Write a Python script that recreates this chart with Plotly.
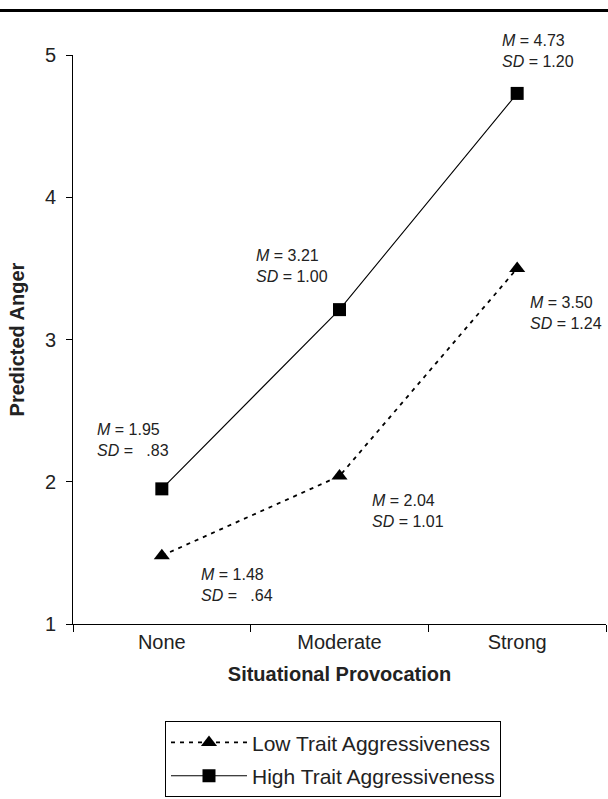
import plotly.graph_objects as go

categories = ["None", "Moderate", "Strong"]
low_means = [1.48, 2.04, 3.50]
low_sds = [0.64, 1.01, 1.24]
high_means = [1.95, 3.21, 4.73]
high_sds = [0.83, 1.00, 1.20]
series_names = ["Low Trait Aggressiveness", "High Trait Aggressiveness"]
y_ticks = [1, 2, 3, 4, 5]

FONT = "Liberation Sans, Arial, Helvetica, sans-serif"


def fmt_sd(v):
    if v < 1:
        return "\u2007" + ("%.2f" % v)[1:]
    return "%.2f" % v


fig = go.Figure()
fig.add_trace(go.Scatter(
    x=categories, y=low_means, name=series_names[0], mode="lines+markers",
    line=dict(color="black", width=1.8, dash="4px,5px"),
    marker=dict(symbol="triangle-up", size=14, color="black"),
    legendgroup="low",
))
fig.add_trace(go.Scatter(
    x=categories, y=high_means, name=series_names[1], mode="lines+markers",
    line=dict(color="black", width=1.1),
    marker=dict(symbol="square", size=13, color="black"),
    legendgroup="high",
))

# annotation offsets (pixels) relative to each point
low_off = [(37, -29), (30, -35), (11, -45)]
high_off = [(-67, 49), (-86, 44), (-17, 42)]

for means, sds, offs in [(low_means, low_sds, low_off), (high_means, high_sds, high_off)]:
    for c, m, s, (dx, dy) in zip(categories, means, sds, offs):
        fig.add_annotation(
            x=c, y=m, xref="x", yref="y",
            text="<i>M</i> = %.2f<br><i>SD</i> = %s" % (m, fmt_sd(s)),
            showarrow=False, xanchor="left", yanchor="middle", align="left",
            xshift=dx, yshift=dy,
            font=dict(family=FONT, size=16, color="#222"),
        )

# top rule
fig.add_shape(type="line", xref="paper", yref="paper",
              x0=-0.2, x1=1.2, y0=1.078, y1=1.078,
              line=dict(color="black", width=3))

fig.update_layout(
    width=608, height=799,
    margin=dict(l=73, r=2, t=55, b=172),
    paper_bgcolor="white", plot_bgcolor="white",
    font=dict(family=FONT, color="#222", size=20),
    xaxis=dict(
        type="category", range=[-0.5, 2.5], tickson="boundaries",
        ticks="outside", ticklen=7, tickcolor="black",
        showline=True, linecolor="black", linewidth=1, showgrid=False,
        zeroline=False, tickfont=dict(size=20),
        title=dict(text="<b>Situational Provocation</b>", font=dict(size=20), standoff=14),
    ),
    yaxis=dict(
        range=[1, 5], tickvals=y_ticks, ticks="outside", ticklen=6, tickcolor="black",
        showline=True, linecolor="black", linewidth=1, showgrid=False,
        zeroline=False, tickfont=dict(size=20), ticklabelstandoff=6,
        title=dict(text="<b>Predicted Anger</b>", font=dict(size=20), standoff=14),
    ),
    showlegend=True,
    legend=dict(
        x=0.1726, y=-0.171, xanchor="left", yanchor="top",
        bordercolor="black", borderwidth=1, bgcolor="white",
        font=dict(size=21), traceorder="grouped", tracegroupgap=3,
        itemwidth=76,
    ),
)

fig.write_html("out.html")
